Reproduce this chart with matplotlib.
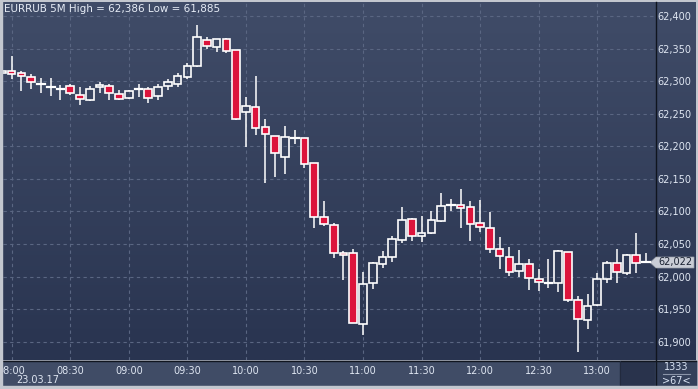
import numpy as np
import matplotlib
matplotlib.use("Agg")
import matplotlib.pyplot as plt
from matplotlib.patches import Rectangle, Polygon

# EURRUB 5M candles, 07:55 .. 13:25 (index 0 = 07:55)
opens = [62.3120, 62.3151, 62.3120, 62.3059, 62.2955, 62.2910, 62.2881, 62.2921, 62.2783, 62.2711,
         62.2906, 62.2921, 62.2798, 62.2737, 62.2873, 62.2884, 62.2772, 62.2921, 62.2952, 62.3059,
         62.3232, 62.3636, 62.3520, 62.3642, 62.3473, 62.2522, 62.2608, 62.2292, 62.2153, 62.1840,
         62.2128, 62.2123, 62.1739, 62.0910, 62.0787, 62.0357, 62.0357, 61.9268, 61.9897, 62.0189,
         62.0296, 62.0554, 62.0879, 62.0618, 62.0664, 62.0849, 62.1089, 62.1094, 62.1064, 62.0818,
         62.0741, 62.0419, 62.0296, 62.0081, 62.0189, 61.9958, 61.9903, 61.9897, 62.0373, 61.9636,
         61.9329, 61.9568, 61.9958, 62.0204, 62.0050, 62.0327, 62.0220]
highs = [62.3160, 62.3391, 62.3156, 62.3110, 62.3044, 62.3053, 62.2941, 62.2961, 62.2910, 62.2921,
         62.2982, 62.2961, 62.2859, 62.2864, 62.2956, 62.2910, 62.2956, 62.3028, 62.3120, 62.3274,
         62.3866, 62.3673, 62.3647, 62.3658, 62.3475, 62.2752, 62.3079, 62.2419, 62.2155, 62.2311,
         62.2250, 62.2125, 62.1740, 62.1160, 62.0818, 62.0393, 62.0419, 62.0066, 62.0219, 62.0393,
         62.0618, 62.1068, 62.0895, 62.0930, 62.1007, 62.1283, 62.1191, 62.1344, 62.1160, 62.1176,
         62.0991, 62.0608, 62.0450, 62.0408, 62.0265, 62.0112, 62.0265, 62.0404, 62.0380, 61.9697,
         61.9728, 62.0050, 62.0235, 62.0419, 62.0342, 62.0664, 62.0357]
lows = [62.3115, 62.3028, 62.2853, 62.2884, 62.2813, 62.2772, 62.2711, 62.2783, 62.2638, 62.2691,
        62.2823, 62.2711, 62.2711, 62.2726, 62.2752, 62.2669, 62.2711, 62.2869, 62.2915, 62.3028,
        62.3222, 62.3489, 62.3452, 62.3427, 62.2410, 62.1994, 62.2173, 62.1441, 62.1533, 62.1575,
        62.2035, 62.1671, 62.0741, 62.0776, 62.0290, 61.9948, 61.9280, 61.9103, 61.9809, 62.0136,
        62.0229, 62.0520, 62.0551, 62.0535, 62.0660, 62.0833, 62.1011, 62.0750, 62.0551, 62.0689,
        62.0357, 62.0121, 62.0014, 61.9998, 61.9794, 61.9783, 61.9829, 61.9759, 61.9605, 61.8850,
        61.9200, 61.9548, 61.9897, 61.9897, 62.0020, 62.0050, 62.0218]
closes = [62.3156, 62.3105, 62.3079, 62.2982, 62.2960, 62.2915, 62.2886, 62.2813, 62.2721, 62.2884,
          62.2936, 62.2813, 62.2721, 62.2844, 62.2878, 62.2746, 62.2906, 62.2982, 62.3074, 62.3225,
          62.3673, 62.3535, 62.3642, 62.3458, 62.2414, 62.2614, 62.2276, 62.2184, 62.1892, 62.2138,
          62.2133, 62.1724, 62.0919, 62.0803, 62.0357, 62.0327, 61.9283, 61.9882, 62.0204, 62.0296,
          62.0572, 62.0861, 62.0618, 62.0664, 62.0864, 62.1079, 62.1093, 62.1048, 62.0803, 62.0757,
          62.0419, 62.0311, 62.0066, 62.0189, 61.9974, 61.9912, 61.9908, 62.0388, 61.9636, 61.9344,
          61.9553, 61.9958, 62.0204, 62.0066, 62.0327, 62.0204, 62.0220]

time_ticks = [1, 7, 13, 19, 25, 31, 37, 43, 49, 55, 61]
time_labels = ["08:00", "08:30", "09:00", "09:30", "10:00", "10:30",
               "11:00", "11:30", "12:00", "12:30", "13:00"]
price_ticks = [61.90, 61.95, 62.00, 62.05, 62.10, 62.15, 62.20, 62.25, 62.30, 62.35, 62.40]
price_labels = ["61,900", "61,950", "62,000", "62,050", "62,100", "62,150",
                "62,200", "62,250", "62,300", "62,350", "62,400"]
last_price = "62,022"

W, H = 698, 389
fig = plt.figure(figsize=(W / 100, H / 100), dpi=100)


def frac(x0, y0, x1, y1):
    # pixel box (top-left origin) -> figure fraction [l, b, w, h]
    return [x0 / W, 1 - y1 / H, (x1 - x0) / W, (y1 - y0) / H]


# background: frame + gradient
bg = fig.add_axes([0, 0, 1, 1])
bg.set_xlim(0, W)
bg.set_ylim(H, 0)
bg.axis("off")
bg.add_patch(Rectangle((0, 0), W, H, color="#c3c7cf"))
top = np.array([0x40, 0x4c, 0x68]) / 255
bot = np.array([0x29, 0x34, 0x50]) / 255
t = np.linspace(0, 1, 200)[:, None]
grad = top + (bot - top) * t
bg.imshow(grad[:, None, :].repeat(2, axis=1), extent=(2, 696, 360, 2), aspect="auto", zorder=1)
bg.add_patch(Rectangle((2, 361), 694, 25, color="#404c66", zorder=2))
bg.add_patch(Rectangle((620, 361), 35, 25, color="#29334c", zorder=3))
bg.add_patch(Rectangle((655, 361), 41, 25, color="#34405a", zorder=3))
bg.plot([2, 2], [1, 387], color="#1c2233", lw=1.2, zorder=4)
bg.plot([655.5, 655.5], [2, 386], color="#10151f", lw=1.0, zorder=4)
bg.plot([2, 696], [360.5, 360.5], color="#10151f", lw=1.0, zorder=4)
bg.plot([619.5, 619.5], [361, 386], color="#222a3e", lw=0.8, zorder=4)

ax = fig.add_axes(frac(3, 2, 655, 360))
ax.patch.set_alpha(0)
px_per = 9.76
ax.set_xlim((3 - 1.9) / px_per, (655 - 1.9) / px_per)
ax.set_ylim(62.400 - 344 * 0.001535, 62.400 + 14 * 0.001535)
for s in ax.spines.values():
    s.set_visible(False)

grid_kw = dict(color="#5a6682", lw=0.8, dashes=(3, 3), zorder=1)
for p in price_ticks:
    ax.axhline(p, **grid_kw)
for x in time_ticks:
    ax.axvline(x, **grid_kw)

red = "#dc143c"
bw = 0.78
for i in range(len(opens)):
    o, h, l, c = opens[i], highs[i], lows[i], closes[i]
    btop, bbot = max(o, c), min(o, c)
    ax.plot([i, i], [btop, h], color="white", lw=1.1, solid_capstyle="butt", zorder=3)
    ax.plot([i, i], [l, bbot], color="white", lw=1.1, solid_capstyle="butt", zorder=3)
    if btop - bbot < 0.0008:
        ax.plot([i - bw / 2, i + bw / 2], [c, c], color="white", lw=1.6, zorder=4)
    elif c < o:
        ax.add_patch(Rectangle((i - bw / 2, bbot), bw, btop - bbot, facecolor=red,
                               edgecolor="white", lw=1.2, zorder=4))
    else:
        ax.add_patch(Rectangle((i - bw / 2, bbot), bw, btop - bbot, facecolor="none",
                               edgecolor="white", lw=1.2, zorder=4))

ax.set_xticks(time_ticks)
ax.set_xticklabels(time_labels)
ax.set_yticks(price_ticks)
ax.set_yticklabels(price_labels)
ax.yaxis.tick_right()
ax.tick_params(axis="both", length=0, labelsize=7, labelcolor="#dfe6f2")
ax.tick_params(axis="x", pad=4.5)
ax.tick_params(axis="y", pad=2)

# title
fig.text(4 / W, 1 - 9 / H, "EURRUB 5M High = 62,386 Low = 61,885", fontsize=7.5,
         color="#e6ecf6", va="center", ha="left")
fig.text(16 / W, 1 - 380 / H, "23.03.17", fontsize=7, color="#dfe6f2", va="center", ha="left")

# last price tag
tag_y = 262.5
tag = Polygon([(650, tag_y), (656, tag_y - 5.5), (694, tag_y - 5.5), (694, tag_y + 5.5),
               (656, tag_y + 5.5)], closed=True, facecolor="#c9cdd6", edgecolor="#9aa0aa",
              lw=0.5, zorder=6)
bg.add_patch(tag)
bg.text(675, tag_y, last_price, fontsize=7, color="#1a2232", ha="center", va="center", zorder=7)

# corner box
bg.text(676, 367, "1333", fontsize=7, color="#d8e2f2", ha="center", va="center", zorder=7)
bg.plot([663, 690], [373.5, 373.5], color="#8a94a8", lw=0.8, zorder=7)
bg.text(676, 381, ">67<", fontsize=7, color="#d8e2f2", ha="center", va="center", zorder=7)

# frame on top so the first time label is cut like in the original
fig.add_artist(Rectangle((0, 0), 2 / W, 1, transform=fig.transFigure, color="#c3c7cf", zorder=10))
fig.add_artist(Rectangle((0, 0), 1, 3 / H, transform=fig.transFigure, color="#c3c7cf", zorder=10))

fig.savefig("out.png", dpi=100)
